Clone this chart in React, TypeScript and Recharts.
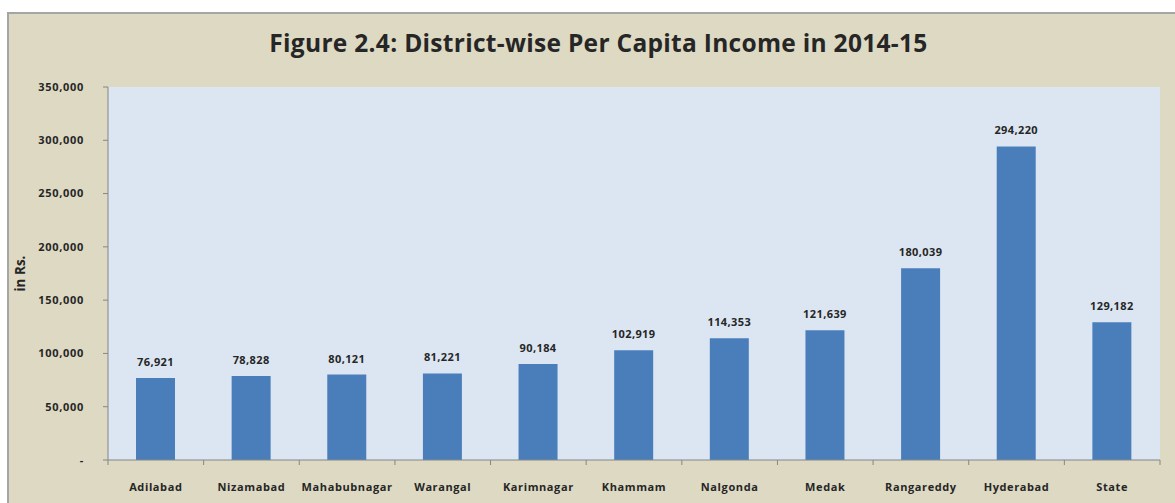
import React from 'react';
import { BarChart, Bar, XAxis, YAxis, CartesianGrid, LabelList, Label } from 'recharts';

const districts = ['Adilabad', 'Nizamabad', 'Mahabubnagar', 'Warangal', 'Karimnagar', 'Khammam', 'Nalgonda', 'Medak', 'Rangareddy', 'Hyderabad', 'State'];
const incomes = [76921, 78828, 80121, 81221, 90184, 102919, 114353, 121639, 180039, 294220, 129182];
const yTicks = [0, 50000, 100000, 150000, 200000, 250000, 300000, 350000];
const titleText = 'Figure 2.4: District-wise Per Capita Income in 2014-15';
const yLabelText = 'in Rs.';

const data = districts.map((d, i) => ({ name: d, value: incomes[i] }));

const FONT = '"Open Sans", "DejaVu Sans", sans-serif';
const TEXT = '#262626';
const AXIS = '#868686';

const fmt = (v: number) => (v === 0 ? '-' : v.toLocaleString('en-US'));

const XTick = (props: any) => {
  const { x, y, payload, index } = props;
  const half = payload && payload.offset ? payload.offset : 47.8;
  const last = index === districts.length - 1;
  return (
    <g>
      <line x1={x - half} x2={x - half} y1={y} y2={y + 5} stroke={AXIS} strokeWidth={1} />
      {last && <line x1={x + half} x2={x + half} y1={y} y2={y + 5} stroke={AXIS} strokeWidth={1} />}
      <text x={x} y={y + 26} textAnchor="middle" dominantBaseline="central" fill={TEXT}
        style={{ fontFamily: FONT, fontWeight: 700, fontSize: 11, letterSpacing: 0.6 }}>
        {payload.value}
      </text>
    </g>
  );
};

export default function App() {
  return (
    <div style={{ position: 'absolute', left: 0, top: 0, width: 1175, height: 503, overflow: 'hidden', background: '#ffffff' }}>
      <div style={{ position: 'absolute', left: 7, top: 12, width: 1200, height: 520, background: '#ddd9c3', borderLeft: '2px solid #a5a5a5', borderTop: '2px solid #a5a5a5' }} />
      <div style={{ position: 'absolute', left: 0, width: 1197, top: 27, textAlign: 'center', fontFamily: FONT, fontWeight: 700, fontSize: 24.5, color: TEXT, lineHeight: '32px', letterSpacing: 0.3 }}>
        {titleText}
      </div>
      <div style={{ position: 'absolute', left: 0, top: 0 }}>
        <BarChart width={1175} height={503} data={data} margin={{ top: 87, right: 15, bottom: 13, left: 0 }} barSize={39}>
          <CartesianGrid fill="#dce6f2" horizontal={false} vertical={false} stroke="none" />
          <XAxis dataKey="name" height={30} axisLine={{ stroke: AXIS }} tickLine={false} tickSize={0} tickMargin={0} tick={<XTick />} interval={0} />
          <YAxis width={108} domain={[0, 350000]} ticks={yTicks} tickFormatter={fmt} interval={0}
            axisLine={{ stroke: AXIS }} tickLine={{ stroke: AXIS }} tickSize={5} tickMargin={19}
            tick={{ fill: TEXT, fontFamily: FONT, fontWeight: 700, fontSize: 11, letterSpacing: 0.7 }}>
            <Label value={yLabelText} angle={-90} position="insideLeft" offset={20}
              style={{ fill: TEXT, fontFamily: FONT, fontWeight: 700, fontSize: 13.5, textAnchor: 'middle' }} />
          </YAxis>
          <Bar dataKey="value" fill="#4a7ebb" isAnimationActive={false}>
            <LabelList dataKey="value" position="top" offset={12} formatter={(v: any) => Number(v).toLocaleString('en-US')}
              style={{ fill: TEXT, fontFamily: FONT, fontWeight: 700, fontSize: 11, letterSpacing: 0.4 }} />
          </Bar>
        </BarChart>
      </div>
    </div>
  );
}
